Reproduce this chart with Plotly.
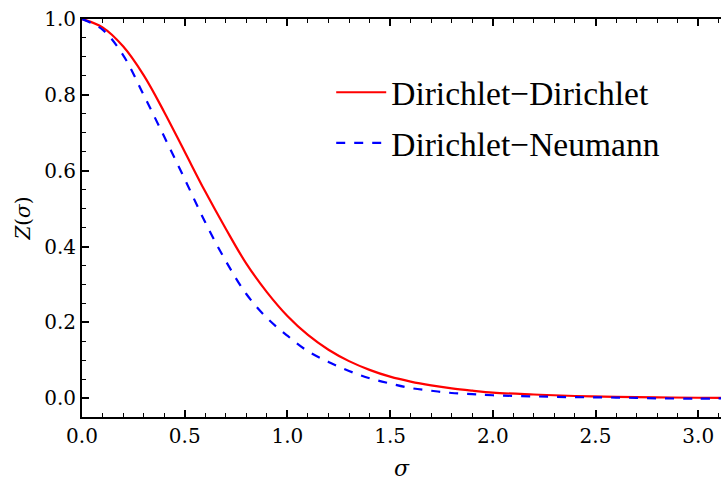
import plotly.graph_objects as go

sigma = [0.0, 0.1, 0.2, 0.3, 0.4, 0.5, 0.6, 0.7, 0.8, 0.9, 1.0, 1.1, 1.2, 1.3, 1.4,
         1.5, 1.6, 1.7, 1.8, 1.9, 2.0, 2.2, 2.4, 2.6, 2.8, 3.0, 3.14]
z_dd = [1.0, 0.978, 0.928, 0.852, 0.755, 0.65, 0.545, 0.447, 0.355, 0.28, 0.217, 0.167,
        0.128, 0.098, 0.075, 0.057, 0.044, 0.034, 0.026, 0.020, 0.015, 0.010, 0.006,
        0.004, 0.0025, 0.0015, 0.001]
z_dn = [1.0, 0.972, 0.905, 0.80, 0.69, 0.578, 0.464, 0.362, 0.275, 0.212, 0.165, 0.124,
        0.096, 0.072, 0.053, 0.039, 0.027, 0.020, 0.014, 0.011, 0.008, 0.005, 0.003,
        0.002, 0.0, -0.001, 0.0]

x_ticks = [0.0, 0.5, 1.0, 1.5, 2.0, 2.5, 3.0]
y_ticks = [0.0, 0.2, 0.4, 0.6, 0.8, 1.0]

SERIF = "DejaVu Serif"
TIMES = "Liberation Serif"

fig = go.Figure()
fig.add_trace(go.Scatter(x=sigma, y=z_dd, mode="lines", name="Dirichlet\u2212Dirichlet",
                         line=dict(color="#ff0000", width=2.2, shape="spline", smoothing=1.0),
                         legendgroup="a"))
fig.add_trace(go.Scatter(x=sigma, y=z_dn, mode="lines", name="Dirichlet\u2212Neumann",
                         line=dict(color="#0000ff", width=2.2, shape="spline", smoothing=1.0,
                                   dash="dash"),
                         legendgroup="b"))

axis_common = dict(showline=True, linecolor="black", linewidth=2, showgrid=False,
                   zeroline=False, ticks="inside", ticklen=7, tickwidth=1.5,
                   tickcolor="black", automargin=False,
                   tickfont=dict(family=SERIF, size=20, color="black"))

fig.update_layout(
    width=721, height=481,
    margin=dict(l=82, r=0, t=19, b=64),
    plot_bgcolor="white", paper_bgcolor="white",
    showlegend=True,
    legend=dict(x=0.39, y=0.887, xanchor="left", yanchor="top", itemwidth=50,
                font=dict(family=TIMES, size=33.5, color="black"),
                bgcolor="rgba(0,0,0,0)", tracegroupgap=4),
    xaxis=dict(range=[0, 3.111], tickvals=x_ticks, tickformat=".1f", mirror="allticks",
               minor=dict(dtick=0.1, ticks="inside", ticklen=4, tickcolor="black", tickwidth=1.2),
               title=dict(text="<i>\u03c3</i>", font=dict(family=SERIF, size=22, color="black"),
                          standoff=17),
               **axis_common),
    yaxis=dict(range=[-0.0493, 1.0], tickvals=y_ticks, tickformat=".1f", mirror=False,
               minor=dict(dtick=0.05, ticks="inside", ticklen=4, tickcolor="black", tickwidth=1.2),
               title=dict(text="<i>Z</i>(<i>\u03c3</i>)", font=dict(family=SERIF, size=20, color="black"),
                          standoff=8),
               **axis_common),
)

# remove the default page margin so the figure fills the window exactly
fig.write_html("out.html", post_script="document.body.style.margin='0';",
               config={"displayModeBar": False})
